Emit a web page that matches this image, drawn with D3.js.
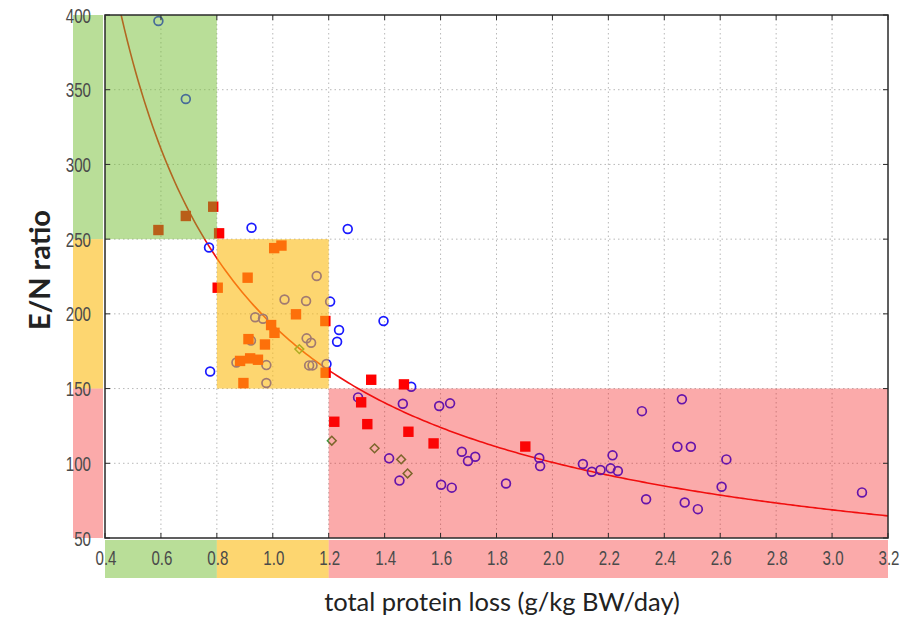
<!DOCTYPE html>
<html><head><meta charset="utf-8">
<script src="https://cdn.jsdelivr.net/npm/d3@7"></script>
<style>
html,body{margin:0;padding:0;background:#fff;}
svg{display:block;}
</style></head>
<body>
<svg id="chart" width="902" height="617"></svg>
<script>
// ---- data ----
const xTicks = [0.4,0.6,0.8,1.0,1.2,1.4,1.6,1.8,2.0,2.2,2.4,2.6,2.8,3.0,3.2];
const yTicks = [50,100,150,200,250,300,350,400];

const circleX = [0.591,0.689,0.772,0.924,1.268,0.776,1.396,1.237,1.230,1.205,1.192,1.495,1.305,1.465,1.595,1.634,1.416,1.453,1.676,1.698,1.724,1.602,1.640,1.834,1.953,1.956,2.109,2.141,2.172,2.208,2.234,2.215,2.320,2.463,2.447,2.495,2.622,2.605,2.335,2.473,2.520,3.107,
  1.157,1.042,1.119,0.937,0.965,0.922,1.121,1.137,0.870,0.977,1.130,1.142,0.977];
const circleY = [396.0,343.8,244.4,257.6,256.8,161.4,195.2,189.2,181.3,208.2,166.4,151.2,144.1,139.8,138.3,140.1,103.3,88.4,107.7,101.5,104.4,85.6,83.7,86.5,103.5,98.1,99.5,94.3,95.5,96.6,94.8,105.3,134.9,142.8,111.1,111.1,102.6,84.3,75.9,73.7,69.3,80.5,
  225.3,209.6,208.6,197.7,196.7,182.1,183.6,180.7,167.4,165.7,165.5,165.5,153.7];

const squareX = [0.591,0.689,0.787,0.808,1.005,1.031,0.910,0.803,1.083,1.188,0.994,1.006,0.913,0.972,0.883,0.919,0.947,1.189,0.895,1.352,1.469,1.316,1.220,1.338,1.485,1.575,1.903];
const squareY = [256.1,265.5,271.7,253.9,244.0,245.7,224.2,217.5,199.7,195.2,192.5,187.3,183.1,179.5,168.5,170.2,169.3,160.6,153.7,155.9,152.8,140.8,127.8,126.2,121.1,113.3,111.2];

const diamondX = [1.095,1.211,1.364,1.459,1.482];
const diamondY = [176.4,115.1,110.0,102.6,93.2];

// power-law fit: y = a * x^b
const fitA = 192.5, fitB = -0.936;

// zones
const zoneNames = ["green","yellow","red"];
const zoneX0 = [0.4,0.8,1.2], zoneX1 = [0.8,1.2,3.2];
const zoneY0 = [250,150,50], zoneY1 = [400,250,150];
const zoneFill = ["rgb(115,189,49)","rgb(252,187,17)","rgb(244,12,12)"];
const zoneAlpha = [0.5,0.6,0.35];

// ---- layout ----
const svg = d3.select("#chart");
const L = 105, R = 888, T = 15, B = 538;
const x = d3.scaleLinear().domain([0.4,3.2]).range([L,R]);
const y = d3.scaleLinear().domain([50,400]).range([B,T]);

svg.append("defs").append("clipPath").attr("id","plotclip")
  .append("rect").attr("x",L).attr("y",T).attr("width",R-L).attr("height",B-T);

// grid
const grid = svg.append("g");
grid.selectAll(".gx").data(xTicks.slice(1,-1)).enter().append("line")
  .attr("x1",d=>x(d)).attr("x2",d=>x(d)).attr("y1",T).attr("y2",B)
  .attr("stroke","#b8b8b8").attr("stroke-width",1).attr("stroke-dasharray","1.5,3");
grid.selectAll(".gy").data(yTicks.slice(1,-1)).enter().append("line")
  .attr("y1",d=>y(d)).attr("y2",d=>y(d)).attr("x1",L).attr("x2",R)
  .attr("stroke","#b8b8b8").attr("stroke-width",1).attr("stroke-dasharray","1.5,3");

// fit curve
const xs = d3.range(0.40,3.2001,0.01);
svg.append("path").attr("clip-path","url(#plotclip)")
  .datum(xs)
  .attr("d",d3.line().x(d=>x(d)).y(d=>y(fitA*Math.pow(d,fitB))))
  .attr("fill","none").attr("stroke","#f01010").attr("stroke-width",1.6);

// markers
const pts = svg.append("g");
pts.selectAll(".c").data(circleX.map((v,i)=>[v,circleY[i]])).enter().append("circle")
  .attr("cx",d=>x(d[0])).attr("cy",d=>y(d[1])).attr("r",4.4)
  .attr("fill","none").attr("stroke","#1a1aff").attr("stroke-width",1.7);
pts.selectAll(".s").data(squareX.map((v,i)=>[v,squareY[i]])).enter().append("rect")
  .attr("x",d=>x(d[0])-5.2).attr("y",d=>y(d[1])-5.2).attr("width",10.4).attr("height",10.4)
  .attr("fill","#ff0000");
pts.selectAll(".d").data(diamondX.map((v,i)=>[v,diamondY[i]])).enter().append("path")
  .attr("d",d=>{const cx=x(d[0]),cy=y(d[1]),s=4.4;return `M${cx},${cy-s}L${cx+s},${cy}L${cx},${cy+s}L${cx-s},${cy}Z`;})
  .attr("fill","none").attr("stroke","#3c963c").attr("stroke-width",1.5);

// zone overlays (translucent, on top of markers)
const zones = svg.append("g");
zoneNames.forEach((n,i)=>{
  zones.append("rect").attr("x",x(zoneX0[i])).attr("y",y(zoneY1[i]))
    .attr("width",x(zoneX1[i])-x(zoneX0[i])).attr("height",y(zoneY0[i])-y(zoneY1[i]))
    .attr("fill",zoneFill[i]).attr("fill-opacity",zoneAlpha[i]);
  zones.append("rect").attr("x",73).attr("y",y(zoneY1[i]))
    .attr("width",30).attr("height",y(zoneY0[i])-y(zoneY1[i]))
    .attr("fill",zoneFill[i]).attr("fill-opacity",zoneAlpha[i]);
  zones.append("rect").attr("x",x(zoneX0[i])).attr("y",B+2)
    .attr("width",x(zoneX1[i])-x(zoneX0[i])).attr("height",38)
    .attr("fill",zoneFill[i]).attr("fill-opacity",zoneAlpha[i]);
});

// frame and ticks
const ax = svg.append("g").attr("fill","none");
ax.append("rect").attr("x",L).attr("y",T).attr("width",R-L).attr("height",B-T)
  .attr("stroke","#2a2a2a").attr("stroke-width",1.5);
const tk = 5;
xTicks.forEach(t=>{
  ax.append("line").attr("x1",x(t)).attr("x2",x(t)).attr("y1",B).attr("y2",B-tk).attr("stroke","#2a2a2a");
  ax.append("line").attr("x1",x(t)).attr("x2",x(t)).attr("y1",T).attr("y2",T+tk).attr("stroke","#2a2a2a");
});
yTicks.forEach(t=>{
  ax.append("line").attr("y1",y(t)).attr("y2",y(t)).attr("x1",L).attr("x2",L+tk).attr("stroke","#2a2a2a");
  ax.append("line").attr("y1",y(t)).attr("y2",y(t)).attr("x1",R).attr("x2",R-tk).attr("stroke","#2a2a2a");
});

// tick labels (narrow face emulated by horizontal scaling)
const tickFont = "'Liberation Sans',Arial,sans-serif";
const sx = 0.72;
svg.append("g").selectAll("text").data(xTicks).enter().append("text")
  .attr("transform",d=>`translate(${x(d)+1},${B+27}) scale(${sx},1)`)
  .attr("text-anchor","middle")
  .attr("font-family",tickFont).attr("font-size",21).attr("fill","#4a4a4a")
  .text(d=>d3.format(".1f")(d));
svg.append("g").selectAll("text").data(yTicks).enter().append("text")
  .attr("transform",d=>`translate(91,${y(d)}) scale(${sx},1)`)
  .attr("dy","0.36em").attr("text-anchor","end")
  .attr("font-family",tickFont).attr("font-size",21).attr("fill","#4a4a4a")
  .text(d=>d);

// titles
svg.append("text").attr("x",502).attr("y",611).attr("text-anchor","middle")
  .attr("font-family","Lato,'Open Sans',sans-serif").attr("font-size",25.5).attr("fill","#222")
  .text("total protein loss (g/kg BW/day)");
svg.append("text").attr("transform","translate(50,270) rotate(-90)").attr("text-anchor","middle")
  .attr("font-family","Lato,'Open Sans',sans-serif").attr("font-weight","bold").attr("font-size",29).attr("fill","#222")
  .text("E/N ratio");
</script>
</body></html>
